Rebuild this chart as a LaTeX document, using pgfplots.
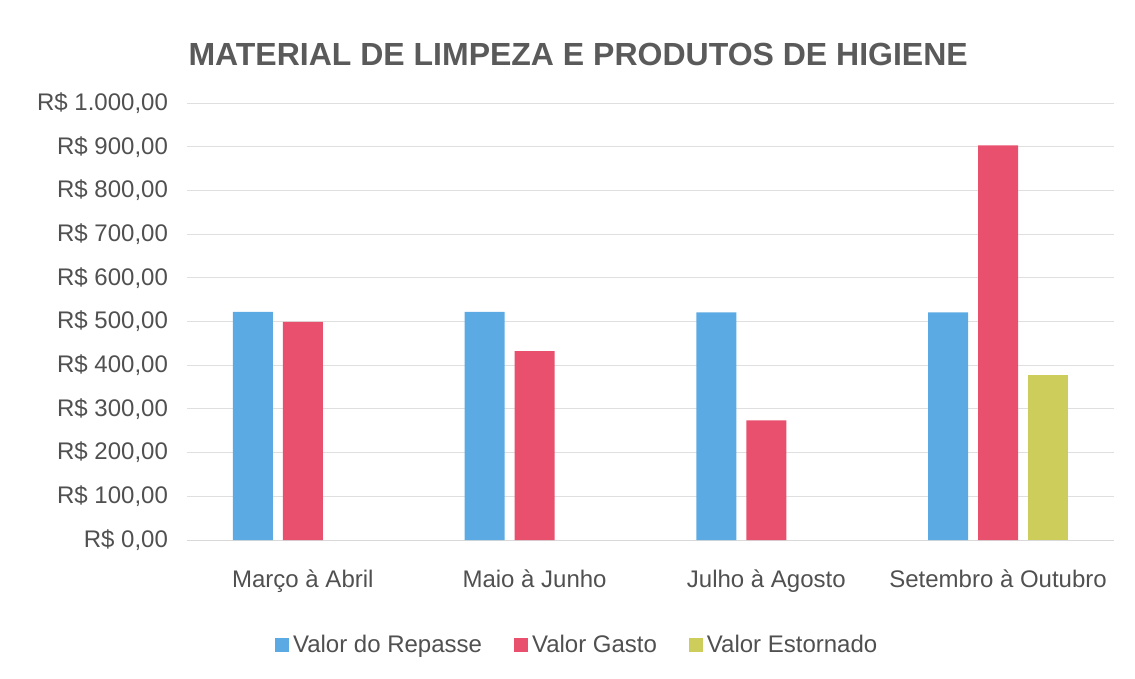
\documentclass[border=0pt]{standalone}
\usepackage{pgfplots}
\pgfplotsset{compat=1.18}
\usepackage{fontspec}
\setmainfont{Liberation Sans}
\definecolor{cblue}{HTML}{5CAAE4}
\definecolor{cred}{HTML}{E8506E}
\definecolor{cyel}{HTML}{CDCD5C}
\definecolor{ctxt}{HTML}{505050}
\definecolor{ctitle}{HTML}{5A5A5A}
\begin{document}
\begin{tikzpicture}
\begin{axis}[
  scale only axis,
  width=463.5pt, height=218.5pt,
  ybar=5pt, bar width=20pt,
  xmin=-0.5, xmax=3.5,
  ymin=0, ymax=1000,
  xtick={0,1,2,3},
  xticklabels={Março à Abril, Maio à Junho, Julho à Agosto, Setembro à Outubro},
  ytick={0,100,...,1000},
  yticklabels={R\$ 0{,}00, R\$ 100{,}00, R\$ 200{,}00, R\$ 300{,}00, R\$ 400{,}00, R\$ 500{,}00, R\$ 600{,}00, R\$ 700{,}00, R\$ 800{,}00, R\$ 900{,}00, R\$ 1.000{,}00},
  tick label style={font=\fontsize{12}{14}\selectfont, text=ctxt},
  yticklabel style={xshift=-6pt},
  xticklabel style={yshift=-11.5pt},
  major tick length=0pt,
  axis x line*=bottom, axis y line*=left,
  x axis line style={draw=gray!30},
  y axis line style={draw=none},
  ymajorgrids, grid style={draw=gray!25, line width=0.5pt},
  clip=false,
  legend style={at={(0.422,-0.24)}, anchor=center, draw=none, legend columns=3,
    font=\fontsize{12}{14}\selectfont, text=ctxt,
    /tikz/every even column/.append style={column sep=14pt}},
  legend image code/.code={\fill[#1] (0pt,-3.5pt) rectangle (7pt,3.5pt);},
]
\addplot[fill=cblue, draw=none] coordinates {(0,522) (1,522) (2,521) (3,521)};
\addplot[fill=cred, draw=none] coordinates {(0,499) (1,432) (2,274) (3,903)};
\addplot[fill=cyel, draw=none] coordinates {(3,377)};
\legend{Valor do Repasse, Valor Gasto, Valor Estornado}
\node[font=\bfseries\fontsize{16}{19}\selectfont, text=ctitle] at (rel axis cs:0.422,1.11) {MATERIAL DE LIMPEZA E PRODUTOS DE HIGIENE};
\path (rel axis cs:-0.2017,-0.3158) rectangle (rel axis cs:1.0227,1.2357);
\end{axis}
\end{tikzpicture}
\end{document}
